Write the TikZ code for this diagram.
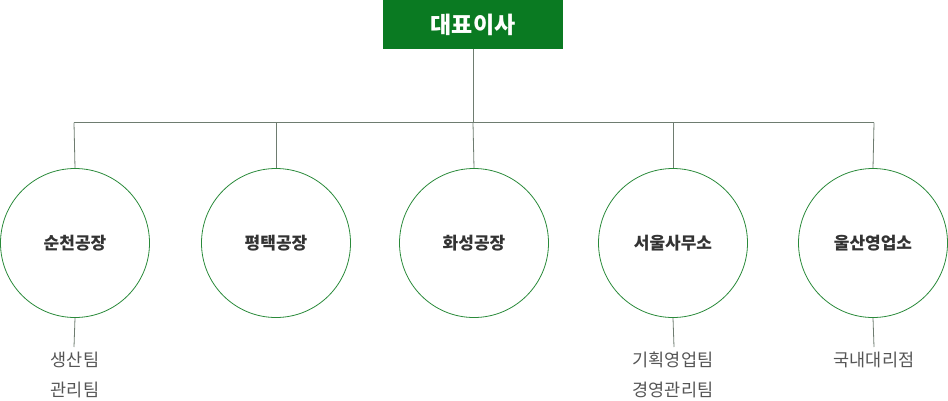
\documentclass[tikz,border=0pt]{standalone}
\usepackage{fontspec}
\setmainfont{Noto Sans CJK KR}
\definecolor{boxgreen}{HTML}{0A7A22}
\definecolor{ringgreen}{HTML}{2A8A3A}
\definecolor{linegray}{HTML}{6E7C70}
\definecolor{labeldark}{HTML}{333333}
\definecolor{subgray}{HTML}{555555}
\begin{document}
\begin{tikzpicture}[x=1pt,y=-1pt,
  topbox/.style={fill=boxgreen,draw=none,minimum width=180pt,minimum height=49pt,inner sep=0pt,text=white,font=\fontsize{23}{26}\selectfont\bfseries},
  ring/.style={circle,draw=ringgreen,line width=0.8pt,minimum size=149pt,inner sep=0pt,text=labeldark,font=\fontsize{17}{20}\selectfont\bfseries},
  sub/.style={text=subgray,font=\fontsize{17.5}{20}\selectfont,inner sep=0pt},
  conn/.style={draw=linegray,line width=0.8pt}]
\useasboundingbox (0,0) rectangle (948,400);
\node[topbox] (ceo) at (473,24.5) {대표이사};
\coordinate (hub) at (473,122.5);
\node[ring] (c1) at (75,243) {순천공장};
\node[ring] (c2) at (276,243) {평택공장};
\node[ring] (c3) at (474,243) {화성공장};
\node[ring] (c4) at (673,243) {서울사무소};
\node[ring] (c5) at (873,243) {울산영업소};
\coordinate (h1) at (74,122.5);
\coordinate (h5) at (874,122.5);
\draw[conn] (ceo.south) -- (hub);
\draw[conn] (h1) -- (h5);
\draw[conn] (h1) -- (c1.north);
\draw[conn] (c2.north |- hub) -- (c2.north);
\draw[conn] (hub) -- (c3.north);
\draw[conn] (c4.north |- hub) -- (c4.north);
\draw[conn] (h5) -- (c5.north);
\node[sub] (s1a) at (75,360) {생산팀};
\node[sub] (s1b) at (75,390) {관리팀};
\node[sub] (s4a) at (673,360) {기획영업팀};
\node[sub] (s4b) at (673,390) {경영관리팀};
\node[sub] (s5a) at (874,360) {국내대리점};
\coordinate (e1) at (74,347);
\coordinate (e4) at (674,347);
\coordinate (e5) at (874,347);
\draw[conn] (c1.south) -- (e1);
\draw[conn] (c4.south) -- (e4);
\draw[conn] (c5.south) -- (e5);
\end{tikzpicture}
\end{document}
